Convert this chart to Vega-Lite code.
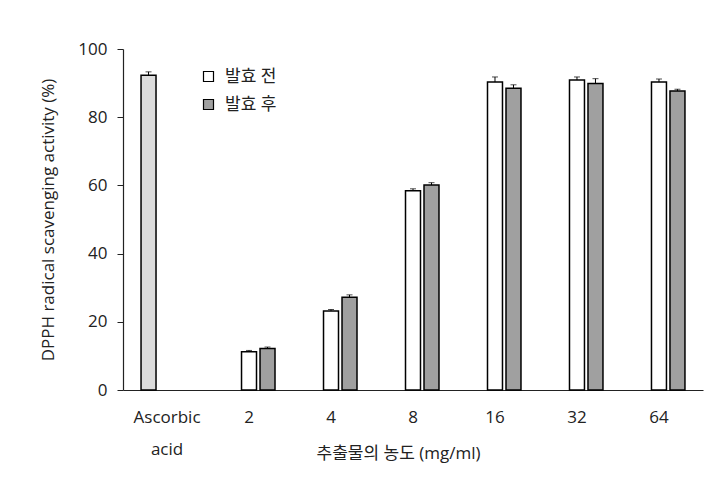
{
  "$schema": "https://vega.github.io/schema/vega-lite/v6.json",
  "width": 580,
  "height": 341,
  "autosize": {"type": "none"},
  "padding": {"left": 123, "top": 49, "right": 16, "bottom": 87},
  "background": "white",
  "config": {
    "font": "Open Sans, Noto Sans CJK KR",
    "view": {"stroke": null},
    "axis": {
      "labelColor": "#222",
      "titleColor": "#222",
      "domainColor": "#222",
      "tickColor": "#222",
      "labelFontSize": 17,
      "titleFontSize": 17,
      "titleFontWeight": "normal",
      "grid": false
    }
  },
  "data": {
    "values": [
      {"cat": "Ascorbic acid", "series": "Ascorbic acid", "value": 92.3, "upper": 93.3},
      {"cat": "2", "series": "발효 전", "value": 11.2, "upper": 11.6},
      {"cat": "2", "series": "발효 후", "value": 12.2, "upper": 12.6},
      {"cat": "4", "series": "발효 전", "value": 23.2, "upper": 23.6},
      {"cat": "4", "series": "발효 후", "value": 27.2, "upper": 27.9},
      {"cat": "8", "series": "발효 전", "value": 58.4, "upper": 59.0},
      {"cat": "8", "series": "발효 후", "value": 60.1, "upper": 60.8},
      {"cat": "16", "series": "발효 전", "value": 90.3, "upper": 91.8},
      {"cat": "16", "series": "발효 후", "value": 88.5, "upper": 89.5},
      {"cat": "32", "series": "발효 전", "value": 90.9, "upper": 91.8},
      {"cat": "32", "series": "발효 후", "value": 89.9, "upper": 91.3},
      {"cat": "64", "series": "발효 전", "value": 90.3, "upper": 91.2},
      {"cat": "64", "series": "발효 후", "value": 87.7, "upper": 88.2}
    ]
  },
  "encoding": {
    "x": {
      "field": "cat",
      "type": "nominal",
      "sort": ["Ascorbic acid", "2", "4", "8", "16", "32", "64"],
      "scale": {"paddingInner": 0, "paddingOuter": 0.037},
      "axis": {
        "title": "추출물의 농도 (mg/ml)",
        "labelAngle": 0,
        "ticks": false,
        "labelPadding": 19,
        "labelLineHeight": 32,
        "labelExpr": "datum.value == 'Ascorbic acid' ? ['Ascorbic', 'acid'] : datum.value",
        "titleX": 275,
        "titleY": 55,
        "titleBaseline": "top",
        "domainWidth": 1.2
      }
    },
    "xOffset": {
      "field": "series",
      "type": "nominal",
      "sort": ["Ascorbic acid", "발효 전", "발효 후"],
      "scale": {"paddingInner": 0.19, "paddingOuter": 0.811}
    }
  },
  "layer": [
    {
      "mark": {"type": "bar", "stroke": "black", "strokeWidth": 1.5},
      "encoding": {
        "y": {
          "field": "value",
          "type": "quantitative",
          "scale": {"domain": [0, 100]},
          "axis": {
            "title": "DPPH radical scavenging activity (%)",
            "values": [0, 20, 40, 60, 80, 100],
            "tickSize": 6,
            "labelPadding": 10,
            "titlePadding": 20,
            "domainWidth": 1.2
          }
        },
        "fill": {
          "field": "series",
          "type": "nominal",
          "scale": {
            "domain": ["Ascorbic acid", "발효 전", "발효 후"],
            "range": ["#dcdcdc", "#ffffff", "#a0a0a0"]
          },
          "legend": {
            "orient": "none",
            "legendX": 77,
            "legendY": 19,
            "values": ["발효 전", "발효 후"],
            "title": null,
            "symbolType": "square",
            "symbolSize": 100,
            "symbolStrokeColor": "black",
            "symbolStrokeWidth": 1.2,
            "labelFontSize": 17,
            "labelColor": "#222",
            "labelOffset": 8,
            "rowPadding": 10,
            "padding": 0
          }
        }
      }
    },
    {
      "mark": {"type": "rule", "color": "black", "strokeWidth": 1},
      "encoding": {
        "y": {"field": "value", "type": "quantitative"},
        "y2": {"field": "upper"}
      }
    },
    {
      "mark": {"type": "tick", "color": "black", "size": 6, "thickness": 1},
      "encoding": {
        "y": {"field": "upper", "type": "quantitative"}
      }
    }
  ]
}
